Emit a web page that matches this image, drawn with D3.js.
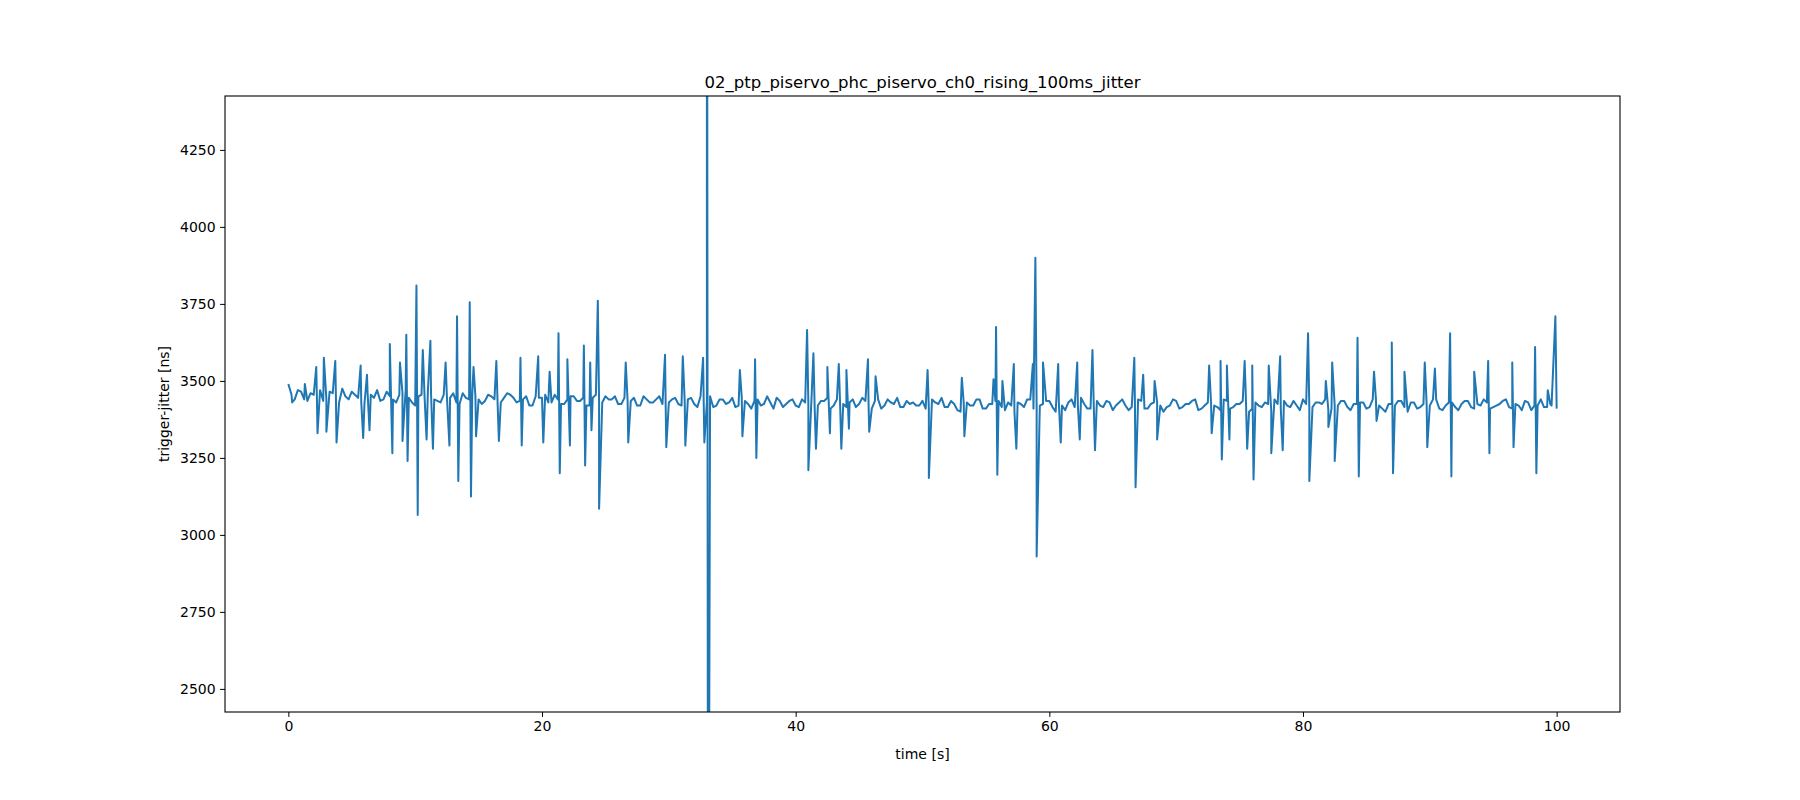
<!DOCTYPE html>
<html>
<head>
<meta charset="utf-8">
<title>jitter</title>
<script src="https://d3js.org/d3.v7.min.js"></script>
<style>
  body { margin: 0; background: #fff; }
  text { font-family: "DejaVu Sans", sans-serif; }
</style>
</head>
<body>
<div id="chart"></div>
<script>
// chart text
const title = "02_ptp_piservo_phc_piservo_ch0_rising_100ms_jitter";
const xLabel = "time [s]";
const yLabel = "trigger-jitter [ns]";
const xTicks = [0, 20, 40, 60, 80, 100];
const yTicks = [2500, 2750, 3000, 3250, 3500, 3750, 4000, 4250];

// baseline samples, one every 0.5 s
const baseValues = [
  3490, 3440, 3465, 3435, 3455, 3470, 3440, 3460, 3430, 3450, 3465, 3445, 3425, 3455, 3470, 3440,
  3450, 3430, 3460, 3445, 3420, 3455, 3465, 3440, 3430, 3450, 3460, 3425, 3445, 3455, 3440,
  3435, 3450, 3425, 3445, 3455, 3430, 3440, 3420, 3450, 3445, 3430, 3455, 3425, 3440, 3450,
  3435, 3420, 3445, 3430, 3450, 3440, 3425, 3445, 3435, 3420, 3450, 3430, 3440, 3425,
  3430, 3445, 3420, 3440, 3425, 3450, 3430, 3415, 3440, 3425, 3445, 3420, 3435, 3410, 3440,
  3425, 3430, 3445, 3415, 3435, 3420, 3440, 3425, 3410, 3435, 3445, 3420, 3430, 3415, 3440,
  3425, 3435, 3410, 3440, 3420, 3430, 3445, 3415, 3425,
  3420, 3435, 3410, 3430, 3445, 3415, 3425, 3400, 3430, 3420,
  3440, 3410, 3425, 3435, 3405, 3420, 3430, 3415, 3440, 3410,
  3425, 3435, 3400, 3420, 3430, 3415, 3445, 3410, 3425, 3420,
  3435, 3405, 3430, 3420, 3415, 3440, 3410, 3425, 3430, 3400,
  3420, 3435, 3415, 3425, 3440, 3410, 3430, 3420, 3405, 3435,
  3415, 3425, 3440, 3410, 3420, 3430, 3400, 3425, 3435, 3415,
  3420, 3440, 3410, 3430, 3425, 3405, 3420, 3435, 3415, 3425,
  3430, 3410, 3440, 3420, 3400, 3425, 3435, 3415, 3430, 3410,
  3425, 3420, 3440, 3405, 3430, 3415, 3425, 3435, 3410, 3420,
  3430, 3415, 3425, 3440, 3410, 3420, 3435, 3405, 3420, 3415,
  3425, 3410
];
const baseTimes = baseValues.map((_, i) => i * 0.5);

// in-between baseline samples, offset by 0.25 s
const midValues = [
  3455, 3470, 3440, 3460, 3445, 3435, 3465, 3450, 3475, 3440, 3455, 3430, 3460, 3445, 3435, 3465, 3440, 3455, 3470, 3430,
  3450, 3440, 3460, 3435, 3455, 3445, 3430, 3460, 3440, 3450, 3425, 3455, 3440, 3430, 3460, 3445, 3435, 3450, 3420, 3445,
  3455, 3430, 3440, 3425, 3450, 3435, 3445, 3420, 3455, 3430, 3440, 3450, 3425, 3435, 3445, 3420, 3440, 3430, 3450, 3420,
  3440, 3425, 3435, 3445, 3415, 3430, 3450, 3420, 3440, 3430, 3415, 3445, 3425, 3435, 3420, 3450, 3410, 3435, 3425, 3440,
  3415, 3430, 3445, 3420, 3435, 3410, 3440, 3425, 3430, 3415, 3445, 3420, 3435, 3410, 3440, 3425, 3415, 3435, 3430, 3420,
  3410, 3440, 3425, 3415, 3435, 3405, 3430, 3420, 3440, 3410, 3425, 3435, 3415, 3430, 3400, 3425, 3440, 3410, 3420, 3435,
  3415, 3430, 3405, 3440, 3420, 3425, 3410, 3435, 3415, 3430, 3420, 3440, 3405, 3425, 3435, 3410, 3430, 3420, 3415, 3440,
  3410, 3425, 3435, 3405, 3420, 3430, 3415, 3440, 3410, 3425, 3435, 3400, 3430, 3415, 3425, 3440, 3410, 3420, 3435, 3405,
  3425, 3415, 3430, 3440, 3410, 3420, 3435, 3405, 3425, 3430, 3415, 3440, 3410, 3425, 3420, 3435, 3400, 3430, 3415, 3425,
  3440, 3410, 3420, 3430, 3405, 3435, 3415, 3425, 3440, 3410, 3420, 3435, 3415, 3425, 3405, 3430, 3420, 3440, 3415
];
const midTimes = midValues.map((_, i) => 0.25 + i * 0.5);

// spike samples
const spikeTimes = [
  0.3, 1.3, 2.2, 2.3, 2.8, 3.0, 3.7, 3.8, 5.7, 5.9, 6.2, 6.4, 8.0, 8.2, 8.8, 9.0, 9.3, 9.4,
  10.1, 10.2, 10.6, 10.9, 11.2, 11.4, 12.4, 12.7, 13.3, 13.4, 14.3, 14.4, 14.6, 14.8,
  16.4, 16.6, 18.3, 18.4, 19.7, 20.1, 20.6, 21.3, 21.4, 22.0, 22.2, 23.3, 23.4, 23.8, 23.9,
  24.4, 24.5, 26.6, 26.8, 29.7, 29.8, 31.1, 31.3, 32.7, 32.8, 33.0, 33.1,
  35.6, 35.8, 36.8, 36.9, 40.9, 41.0, 41.4, 41.6, 42.5, 42.7, 43.4, 43.6, 44.0, 44.2,
  45.7, 45.8, 46.3, 50.4, 50.5, 53.1, 53.3, 55.6, 55.8, 55.9, 56.3, 57.2, 57.4, 58.7,
  58.9, 59.0, 59.5, 60.7, 60.9, 62.2, 62.4, 63.4, 63.6, 66.7, 66.8, 67.4, 68.3, 68.5,
  72.6, 72.8, 73.5, 73.6, 74.0, 74.2, 75.4, 75.6, 76.0, 76.1, 77.3, 77.5, 78.2, 78.4,
  80.4, 80.5, 81.8, 82.0, 82.3, 82.5, 84.3, 84.4, 85.6, 85.8, 87.0, 87.1, 88.0,
  89.6, 89.8, 90.4, 91.6, 91.7, 93.5, 94.6, 94.7, 96.5, 96.6, 98.3, 98.4, 99.3, 99.6, 99.9
];
const spikeValues = [
  3430, 3490, 3545, 3330, 3575, 3335, 3565, 3300, 3550, 3315, 3520, 3340, 3620, 3265, 3560, 3305, 3650, 3240,
  3810, 3065, 3600, 3310, 3630, 3280, 3560, 3290, 3710, 3175, 3755, 3125, 3545, 3320,
  3565, 3305, 3575, 3290, 3580, 3300, 3530, 3655, 3200, 3570, 3290, 3615, 3225, 3560, 3340,
  3760, 3085, 3560, 3300, 3585, 3285, 3580, 3290, 3575, 3300, 6000, 1000,
  3535, 3320, 3570, 3250, 3665, 3210, 3590, 3280, 3545, 3330, 3555, 3280, 3535, 3345,
  3570, 3335, 3515, 3535, 3185, 3510, 3320, 3505, 3675, 3195, 3500, 3555, 3280, 3555,
  3900, 2930, 3560, 3555, 3300, 3560, 3310, 3600, 3275, 3575, 3155, 3520, 3500, 3310,
  3550, 3330, 3565, 3245, 3550, 3310, 3565, 3280, 3550, 3180, 3550, 3265, 3580, 3275,
  3655, 3175, 3500, 3350, 3560, 3240, 3640, 3190, 3530, 3370, 3625, 3200, 3530,
  3560, 3285, 3540, 3655, 3190, 3530, 3565, 3265, 3560, 3285, 3610, 3200, 3470, 3420, 3710
];

const samples = baseTimes.map((t, i) => [t, baseValues[i]])
  .concat(midTimes.map((t, i) => [t, midValues[i]]))
  .concat(spikeTimes.map((t, i) => [t, spikeValues[i]]))
  .sort((a, b) => a[0] - b[0]);

const width = 1800, height = 800;
const margin = { top: 96, right: 180, bottom: 88, left: 225 };

const svg = d3.select("#chart").append("svg")
  .attr("width", width).attr("height", height);

const x = d3.scaleLinear().domain([-4.995, 104.995]).range([margin.left, width - margin.right]);
const y = d3.scaleLinear().domain([2425, 4425]).range([height - margin.bottom, margin.top]);

svg.append("clipPath").attr("id", "clip").append("rect")
  .attr("x", margin.left).attr("y", margin.top)
  .attr("width", width - margin.left - margin.right)
  .attr("height", height - margin.top - margin.bottom);

svg.append("path")
  .datum(samples)
  .attr("clip-path", "url(#clip)")
  .attr("fill", "none")
  .attr("stroke", "#1f77b4")
  .attr("stroke-width", 2)
  .attr("stroke-linejoin", "round")
  .attr("d", d3.line().x(d => x(d[0])).y(d => y(d[1])));

const xAxis = svg.append("g")
  .attr("transform", `translate(0,${height - margin.bottom})`)
  .call(d3.axisBottom(x).tickValues(xTicks).tickFormat(d3.format("d")).tickSize(4.9).tickPadding(4.5));
const yAxis = svg.append("g")
  .attr("transform", `translate(${margin.left},0)`)
  .call(d3.axisLeft(y).tickValues(yTicks).tickFormat(d3.format("d")).tickSize(4.9).tickPadding(4.5));
[xAxis, yAxis].forEach(a => {
  a.select(".domain").remove();
  a.selectAll("text").style("font-size", "14px").attr("fill", "#000");
  a.selectAll("line").attr("stroke", "#000").attr("stroke-width", 1);
});

svg.append("rect")
  .attr("x", margin.left).attr("y", margin.top)
  .attr("width", width - margin.left - margin.right)
  .attr("height", height - margin.top - margin.bottom)
  .attr("fill", "none").attr("stroke", "#000").attr("stroke-width", 1.1);

svg.append("text")
  .attr("x", (margin.left + width - margin.right) / 2).attr("y", margin.top - 8)
  .attr("text-anchor", "middle").style("font-size", "16.5px").text(title);
svg.append("text")
  .attr("x", (margin.left + width - margin.right) / 2).attr("y", height - margin.bottom + 47)
  .attr("text-anchor", "middle").style("font-size", "14px").text(xLabel);
svg.append("text")
  .attr("transform", `translate(${margin.left - 56},${(margin.top + height - margin.bottom) / 2}) rotate(-90)`)
  .attr("text-anchor", "middle").style("font-size", "14px").text(yLabel);
</script>
</body>
</html>
